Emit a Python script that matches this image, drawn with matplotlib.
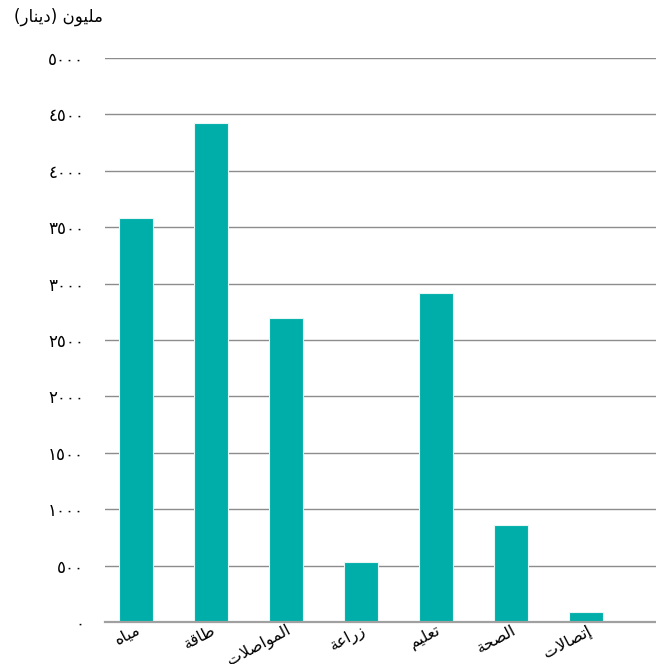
import matplotlib
matplotlib.use("Agg")
import matplotlib.pyplot as plt

# data
categories = ["مياه", "طاقة", "المواصلات", "زراعة", "تعليم", "الصحة", "إتصالات"]
values = [3580, 4420, 2695, 532, 2917, 860, 89]
yticks = [0, 500, 1000, 1500, 2000, 2500, 3000, 3500, 4000, 4500, 5000]
unit_label = "مليون (دينار)"

# minimal Arabic shaping (matplotlib has no bidi / contextual forms)
FORMS = {  # isolated, final, initial, medial
    "ا": ("\ufe8d", "\ufe8e", None, None),
    "إ": ("\ufe87", "\ufe88", None, None),
    "ة": ("\ufe93", "\ufe94", None, None),
    "ت": ("\ufe95", "\ufe96", "\ufe97", "\ufe98"),
    "ح": ("\ufea1", "\ufea2", "\ufea3", "\ufea4"),
    "د": ("\ufea9", "\ufeaa", None, None),
    "ر": ("\ufead", "\ufeae", None, None),
    "ز": ("\ufeaf", "\ufeb0", None, None),
    "ص": ("\ufeb9", "\ufeba", "\ufebb", "\ufebc"),
    "ط": ("\ufec1", "\ufec2", "\ufec3", "\ufec4"),
    "ع": ("\ufec9", "\ufeca", "\ufecb", "\ufecc"),
    "ق": ("\ufed5", "\ufed6", "\ufed7", "\ufed8"),
    "ل": ("\ufedd", "\ufede", "\ufedf", "\ufee0"),
    "م": ("\ufee1", "\ufee2", "\ufee3", "\ufee4"),
    "ن": ("\ufee5", "\ufee6", "\ufee7", "\ufee8"),
    "ه": ("\ufee9", "\ufeea", "\ufeeb", "\ufeec"),
    "و": ("\ufeed", "\ufeee", None, None),
    "ي": ("\ufef1", "\ufef2", "\ufef3", "\ufef4"),
}
DIGITS = str.maketrans("0123456789", "٠١٢٣٤٥٦٧٨٩")


def dual(c):
    return c in FORMS and FORMS[c][2] is not None


def shape(text):
    out = []
    i = 0
    while i < len(text):
        c = text[i]
        if c not in FORMS:
            out.append(c)
            i += 1
            continue
        prev_join = i > 0 and dual(text[i - 1])
        if c == "ل" and i + 1 < len(text) and text[i + 1] == "ا":
            out.append("\ufefc" if prev_join else "\ufefb")
            i += 2
            continue
        next_join = dual(c) and i + 1 < len(text) and text[i + 1] in FORMS
        iso, fin, ini, med = FORMS[c]
        if prev_join and next_join:
            out.append(med)
        elif prev_join:
            out.append(fin)
        elif next_join:
            out.append(ini)
        else:
            out.append(iso)
        i += 1
    vis = "".join(reversed(out))
    return vis.translate(str.maketrans("()", ")("))


plt.rcParams["font.family"] = ["DejaVu Sans"]

fig = plt.figure(figsize=(6.56, 6.64), dpi=100)
ax = fig.add_axes([0.160, 0.063, 0.840, 0.8497])

x = range(len(categories))
ax.bar(x, values, width=0.453, color="#00AEA9", edgecolor="#e6f7f6", linewidth=0.8, zorder=2)

ax.set_xlim(-0.413, 6.93)
ax.set_ylim(0, 5000)
ax.set_yticks(yticks)
ax.set_yticklabels([str(v).translate(DIGITS) for v in yticks], fontsize=12)
ax.yaxis.grid(True, color="#8c8c8c", linewidth=1.0, zorder=0)
ax.set_axisbelow(True)
ax.tick_params(axis="y", length=0, pad=15)
ax.tick_params(axis="x", length=0, pad=0)

ax.set_xticks(list(x))
ax.set_xticklabels([shape(c) for c in categories], fontsize=11.5, rotation=28,
                   ha="right", va="top", rotation_mode="anchor")

for s in ["top", "right", "left"]:
    ax.spines[s].set_visible(False)
ax.spines["bottom"].set_color("#a0a0a0")
ax.spines["bottom"].set_linewidth(1.6)

fig.text(0.021, 0.974, shape(unit_label), fontsize=12, ha="left", va="center")

fig.savefig("out.png", dpi=100)
